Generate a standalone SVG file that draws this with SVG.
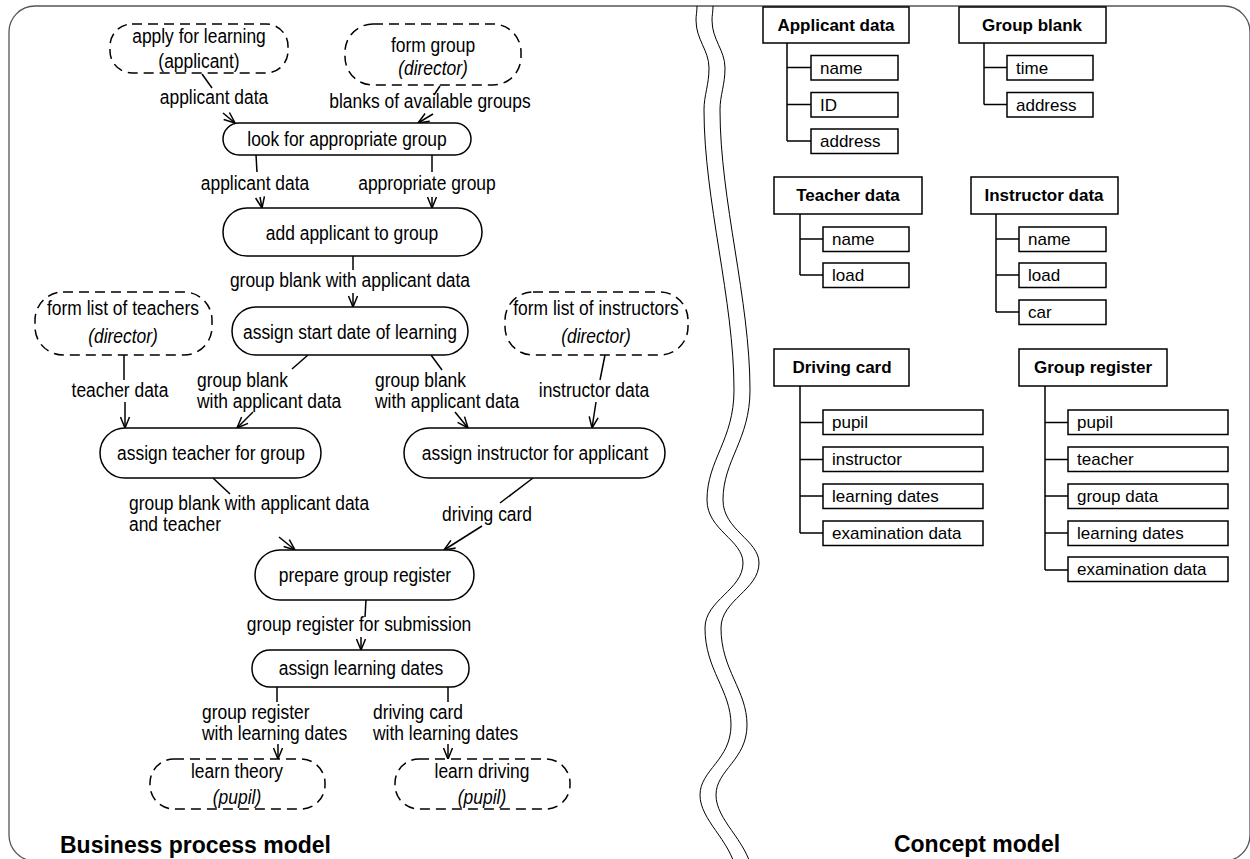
<svg xmlns="http://www.w3.org/2000/svg" width="1250" height="859" viewBox="0 0 1250 859">
  <defs>
    <marker id="arrow" markerUnits="userSpaceOnUse" markerWidth="14" markerHeight="12" refX="11" refY="5" orient="auto" overflow="visible">
      <path d="M0,0.5 L11,5 L0,9.5" fill="none" stroke="#000" stroke-width="1.5"/>
    </marker>
    <style>
      .frame { fill: #fff; stroke: #555; stroke-width: 1.3; }
      .wave { fill: none; stroke: #000; stroke-width: 1; }
      .act { fill: #fff; stroke: #000; stroke-width: 1.5; }
      .ext { fill: #fff; stroke: #000; stroke-width: 1.5; stroke-dasharray: 10 6; }
      /* process text is set in a narrowed sans: each text carries a
         horizontal 0.83 squeeze about its own x position */
      .t { font-family: "Liberation Sans", Arial, sans-serif; font-size: 21px; fill: #000; }
      .m { text-anchor: middle; }
      .i { font-style: italic; }
      .title { font-family: "Liberation Sans", Arial, sans-serif; font-size: 23px; font-weight: bold; fill: #000; }
      .flow line { stroke: #000; stroke-width: 1.5; }
      .box { fill: #fff; stroke: #000; stroke-width: 1.5; }
      .tree { fill: none; stroke: #000; stroke-width: 1.5; }
      .hd { font-family: "Liberation Sans", Arial, sans-serif; font-size: 17px; font-weight: bold; text-anchor: middle; fill: #000; }
      .at { font-family: "Liberation Sans", Arial, sans-serif; font-size: 17px; fill: #000; }
    </style>
  </defs>

  <!-- sheet border -->
  <rect class="frame" x="9" y="6" width="1241" height="855" rx="26"/>

  <!-- break between the two models -->
  <g id="divider">
    <path class="wave" d="M697,6 C697,12 696,15 696,20 C696,40 709,50 709,68 C709,85 704,95 704,110 C704,200 734,300 734,390 C734,440 707,460 707,500 C707,530 743,540 743,563 C743,590 705,600 705,628 C705,670 731,690 731,725 C731,760 700,770 700,795 C700,820 730,840 736,870"/>
    <path class="wave" d="M713,6 C713,12 712,15 712,20 C712,40 725,50 725,68 C725,85 720,95 720,110 C720,200 750,300 750,390 C750,440 723,460 723,500 C723,530 759,540 759,563 C759,590 721,600 721,628 C721,670 747,690 747,725 C747,760 716,770 716,795 C716,820 746,840 752,870"/>
  </g>

  <!-- data flows -->
  <g id="connectors" class="flow">
    <line x1="202" y1="74" x2="212" y2="88"/>
    <line x1="223" y1="113" x2="235" y2="123" marker-end="url(#arrow)"/>
    <line x1="440" y1="86" x2="434" y2="95"/>
    <line x1="433" y1="114" x2="418" y2="123" marker-end="url(#arrow)"/>
    <line x1="256" y1="155" x2="257" y2="172"/>
    <line x1="260" y1="197" x2="262" y2="208" marker-end="url(#arrow)"/>
    <line x1="432" y1="155" x2="432" y2="172"/>
    <line x1="432" y1="197" x2="432" y2="208" marker-end="url(#arrow)"/>
    <line x1="353" y1="256" x2="353" y2="270"/>
    <line x1="353" y1="293" x2="353" y2="307" marker-end="url(#arrow)"/>
    <line x1="124" y1="355" x2="124" y2="380"/>
    <line x1="125" y1="402" x2="125" y2="428" marker-end="url(#arrow)"/>
    <line x1="308" y1="355" x2="292" y2="369"/>
    <line x1="253" y1="412" x2="237" y2="428" marker-end="url(#arrow)"/>
    <line x1="431" y1="355" x2="442" y2="370"/>
    <line x1="455" y1="412" x2="468" y2="428" marker-end="url(#arrow)"/>
    <line x1="605" y1="355" x2="600" y2="380"/>
    <line x1="596" y1="402" x2="592" y2="428" marker-end="url(#arrow)"/>
    <line x1="213" y1="478" x2="230" y2="494"/>
    <line x1="279" y1="537" x2="295" y2="550" marker-end="url(#arrow)"/>
    <line x1="533" y1="478" x2="500" y2="503"/>
    <line x1="482" y1="526" x2="444" y2="550" marker-end="url(#arrow)"/>
    <line x1="366" y1="600" x2="365" y2="617"/>
    <line x1="361" y1="637" x2="361" y2="650" marker-end="url(#arrow)"/>
    <line x1="277" y1="687" x2="277" y2="702"/>
    <line x1="278" y1="744" x2="278" y2="759" marker-end="url(#arrow)"/>
    <line x1="448" y1="687" x2="448" y2="702"/>
    <line x1="448" y1="744" x2="448" y2="759" marker-end="url(#arrow)"/>
  </g>

  <!-- flow labels -->
  <g id="flow-labels" class="t">
    <text class="m" x="214" y="104" transform="matrix(.83 0 0 1 36.38 0)">applicant data</text>
    <text class="m" x="430" y="108" transform="matrix(.83 0 0 1 73.1 0)">blanks of available groups</text>
    <text class="m" x="255" y="190" transform="matrix(.83 0 0 1 43.35 0)">applicant data</text>
    <text class="m" x="427" y="190" transform="matrix(.83 0 0 1 72.59 0)">appropriate group</text>
    <text class="m" x="350" y="287" transform="matrix(.83 0 0 1 59.5 0)">group blank with applicant data</text>
    <text class="m" x="120" y="397" transform="matrix(.83 0 0 1 20.4 0)">teacher data</text>
    <text x="197" y="387" transform="matrix(.83 0 0 1 33.49 0)">group blank</text>
    <text x="197" y="408" transform="matrix(.83 0 0 1 33.49 0)">with applicant data</text>
    <text x="375" y="387" transform="matrix(.83 0 0 1 63.75 0)">group blank</text>
    <text x="375" y="408" transform="matrix(.83 0 0 1 63.75 0)">with applicant data</text>
    <text class="m" x="594" y="397" transform="matrix(.83 0 0 1 100.98 0)">instructor data</text>
    <text x="129" y="510" transform="matrix(.83 0 0 1 21.93 0)">group blank with applicant data</text>
    <text x="129" y="531" transform="matrix(.83 0 0 1 21.93 0)">and teacher</text>
    <text class="m" x="487" y="521" transform="matrix(.83 0 0 1 82.79 0)">driving card</text>
    <text class="m" x="359" y="631" transform="matrix(.83 0 0 1 61.03 0)">group register for submission</text>
    <text x="202" y="719" transform="matrix(.83 0 0 1 34.34 0)">group register</text>
    <text x="202" y="740" transform="matrix(.83 0 0 1 34.34 0)">with learning dates</text>
    <text x="373" y="719" transform="matrix(.83 0 0 1 63.41 0)">driving card</text>
    <text x="373" y="740" transform="matrix(.83 0 0 1 63.41 0)">with learning dates</text>
  </g>

  <!-- business process: activities -->
  <g id="apply-for-learning">
    <rect class="ext" x="110" y="24" width="178" height="49" rx="22"/>
    <text class="t m" x="199" y="43" transform="matrix(.83 0 0 1 33.83 0)">apply for learning</text>
    <text class="t m" x="199" y="68" transform="matrix(.83 0 0 1 33.83 0)">(applicant)</text>
  </g>
  <g id="form-group">
    <rect class="ext" x="345" y="24" width="176" height="61" rx="28"/>
    <text class="t m" x="433" y="52" transform="matrix(.83 0 0 1 73.61 0)">form group</text>
    <text class="t m i" x="433" y="75" transform="matrix(.83 0 0 1 73.61 0)">(director)</text>
  </g>
  <g id="look-for-group">
    <rect class="act" x="223" y="123" width="248" height="32" rx="16"/>
    <text class="t m" x="347" y="146" transform="matrix(.83 0 0 1 58.99 0)">look for appropriate group</text>
  </g>
  <g id="add-applicant">
    <rect class="act" x="223" y="208" width="259" height="48" rx="24"/>
    <text class="t m" x="352" y="240" transform="matrix(.83 0 0 1 59.84 0)">add applicant to group</text>
  </g>
  <g id="form-teachers">
    <rect class="ext" x="35" y="292" width="177" height="63" rx="28"/>
    <text class="t m" x="123" y="315" transform="matrix(.83 0 0 1 20.91 0)">form list of teachers</text>
    <text class="t m i" x="123" y="343" transform="matrix(.83 0 0 1 20.91 0)">(director)</text>
  </g>
  <g id="assign-start-date">
    <rect class="act" x="232" y="307" width="236" height="48" rx="24"/>
    <text class="t m" x="350" y="339" transform="matrix(.83 0 0 1 59.5 0)">assign start date of learning</text>
  </g>
  <g id="form-instructors">
    <rect class="ext" x="505" y="292" width="183" height="63" rx="28"/>
    <text class="t m" x="596" y="315" transform="matrix(.83 0 0 1 101.32 0)">form list of instructors</text>
    <text class="t m i" x="596" y="343" transform="matrix(.83 0 0 1 101.32 0)">(director)</text>
  </g>
  <g id="assign-teacher">
    <rect class="act" x="100" y="428" width="221" height="50" rx="25"/>
    <text class="t m" x="211" y="460" transform="matrix(.83 0 0 1 35.87 0)">assign teacher for group</text>
  </g>
  <g id="assign-instructor">
    <rect class="act" x="404" y="428" width="261" height="50" rx="25"/>
    <text class="t m" x="535" y="460" transform="matrix(.83 0 0 1 90.95 0)">assign instructor for applicant</text>
  </g>
  <g id="prepare-register">
    <rect class="act" x="255" y="550" width="219" height="50" rx="25"/>
    <text class="t m" x="365" y="582" transform="matrix(.83 0 0 1 62.05 0)">prepare group register</text>
  </g>
  <g id="assign-dates">
    <rect class="act" x="252" y="650" width="217" height="37" rx="18"/>
    <text class="t m" x="361" y="675" transform="matrix(.83 0 0 1 61.37 0)">assign learning dates</text>
  </g>
  <g id="learn-theory">
    <rect class="ext" x="150" y="759" width="175" height="50" rx="24"/>
    <text class="t m" x="237" y="778" transform="matrix(.83 0 0 1 40.29 0)">learn theory</text>
    <text class="t m i" x="237" y="804" transform="matrix(.83 0 0 1 40.29 0)">(pupil)</text>
  </g>
  <g id="learn-driving">
    <rect class="ext" x="395" y="759" width="175" height="50" rx="24"/>
    <text class="t m" x="482" y="778" transform="matrix(.83 0 0 1 81.94 0)">learn driving</text>
    <text class="t m i" x="482" y="804" transform="matrix(.83 0 0 1 81.94 0)">(pupil)</text>
  </g>

  <!-- concept model: entities and their attributes -->
  <g id="applicant-data">
    <path class="tree" d="M787,43 V141 M787,67.5 H811 M787,104.5 H811 M787,141 H811"/>
    <rect class="box" x="763" y="7" width="146" height="36"/>
    <text class="hd" x="836" y="31">Applicant data</text>
    <rect class="box" x="811" y="55.5" width="87" height="24.5"/>
    <text class="at" x="820" y="73.5">name</text>
    <rect class="box" x="811" y="92.5" width="87" height="24.5"/>
    <text class="at" x="820" y="110.5">ID</text>
    <rect class="box" x="811" y="129" width="87" height="24.5"/>
    <text class="at" x="820" y="147">address</text>
  </g>
  <g id="group-blank">
    <path class="tree" d="M984,43 V104.5 M984,67.5 H1007 M984,104.5 H1007"/>
    <rect class="box" x="959" y="7" width="147" height="36"/>
    <text class="hd" x="1032" y="31">Group blank</text>
    <rect class="box" x="1007" y="55.5" width="86" height="24.5"/>
    <text class="at" x="1016" y="73.5">time</text>
    <rect class="box" x="1007" y="92.5" width="86" height="24.5"/>
    <text class="at" x="1016" y="110.5">address</text>
  </g>
  <g id="teacher-data">
    <path class="tree" d="M800,214 V275 M800,239 H823 M800,275 H823"/>
    <rect class="box" x="774" y="177" width="148" height="37"/>
    <text class="hd" x="848" y="201">Teacher data</text>
    <rect class="box" x="823" y="227" width="86" height="24.5"/>
    <text class="at" x="832" y="245">name</text>
    <rect class="box" x="823" y="263" width="86" height="24.5"/>
    <text class="at" x="832" y="281">load</text>
  </g>
  <g id="instructor-data">
    <path class="tree" d="M996,214 V312 M996,239 H1019 M996,275 H1019 M996,312 H1019"/>
    <rect class="box" x="971" y="177" width="147" height="37"/>
    <text class="hd" x="1044" y="201">Instructor data</text>
    <rect class="box" x="1019" y="227" width="87" height="24.5"/>
    <text class="at" x="1028" y="245">name</text>
    <rect class="box" x="1019" y="263" width="87" height="24.5"/>
    <text class="at" x="1028" y="281">load</text>
    <rect class="box" x="1019" y="300" width="87" height="24.5"/>
    <text class="at" x="1028" y="318">car</text>
  </g>
  <g id="driving-card">
    <path class="tree" d="M800,386 V533 M800,422.5 H823 M800,459.5 H823 M800,496 H823 M800,533 H823"/>
    <rect class="box" x="774" y="349" width="135" height="37"/>
    <text class="hd" x="842" y="373">Driving card</text>
    <rect class="box" x="823" y="410" width="160" height="24.5"/>
    <text class="at" x="832" y="428">pupil</text>
    <rect class="box" x="823" y="447" width="160" height="24.5"/>
    <text class="at" x="832" y="465">instructor</text>
    <rect class="box" x="823" y="484" width="160" height="24.5"/>
    <text class="at" x="832" y="502">learning dates</text>
    <rect class="box" x="823" y="521" width="160" height="24.5"/>
    <text class="at" x="832" y="539">examination data</text>
  </g>
  <g id="group-register">
    <path class="tree" d="M1045,386 V570 M1045,422.5 H1068 M1045,459.5 H1068 M1045,496 H1068 M1045,533 H1068 M1045,570 H1068"/>
    <rect class="box" x="1019" y="349" width="148" height="37"/>
    <text class="hd" x="1093" y="373">Group register</text>
    <rect class="box" x="1068" y="410" width="160" height="24.5"/>
    <text class="at" x="1077" y="428">pupil</text>
    <rect class="box" x="1068" y="447" width="160" height="24.5"/>
    <text class="at" x="1077" y="465">teacher</text>
    <rect class="box" x="1068" y="484" width="160" height="24.5"/>
    <text class="at" x="1077" y="502">group data</text>
    <rect class="box" x="1068" y="521" width="160" height="24.5"/>
    <text class="at" x="1077" y="539">learning dates</text>
    <rect class="box" x="1068" y="557" width="160" height="24.5"/>
    <text class="at" x="1077" y="575">examination data</text>
  </g>

  <!-- panel titles -->
  <text class="title" x="60" y="853">Business process model</text>
  <text class="title" x="977" y="852" text-anchor="middle">Concept model</text>
</svg>
